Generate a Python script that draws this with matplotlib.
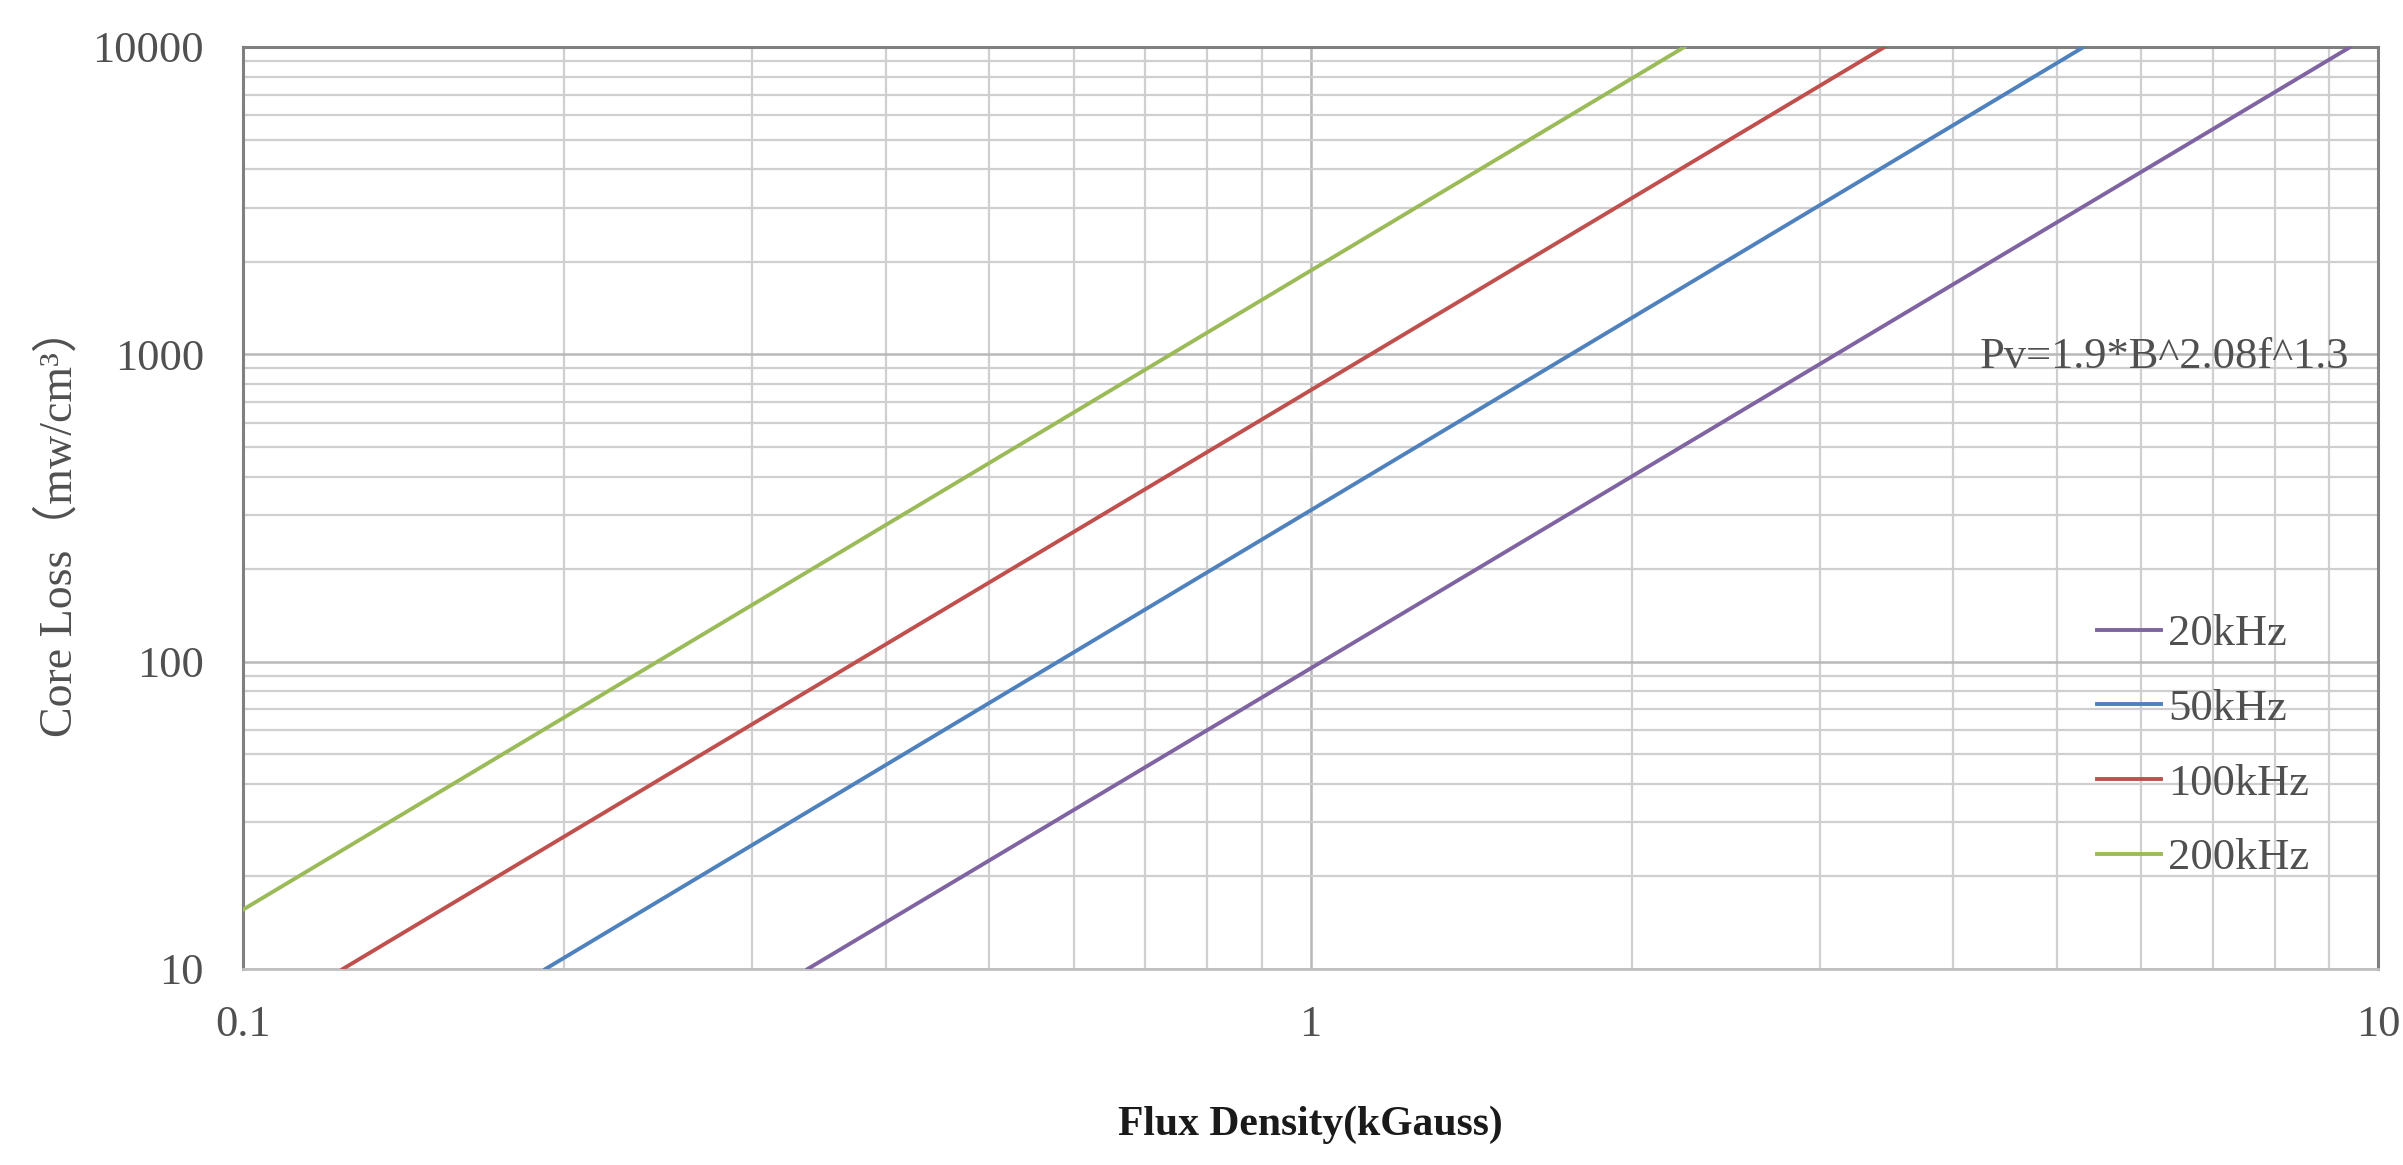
import matplotlib
matplotlib.use("Agg")
import matplotlib.pyplot as plt
from matplotlib.ticker import LogLocator, NullFormatter, FixedLocator

# Pv = 1.9*B^2.08*f^1.3 -- straight lines on log-log, read as end points
labels = ["20kHz", "50kHz", "100kHz", "200kHz"]
colors = ["#8064A2", "#4F81BD", "#C0504D", "#9BBB59"]
b_20k = [0.338, 9.42]
p_20k = [10, 10000]
b_50k = [0.192, 5.3]
p_50k = [10, 10000]
b_100k = [0.124, 3.45]
p_100k = [10, 10000]
b_200k = [0.1, 2.24]
p_200k = [15.6, 10000]

x_ticks = [0.1, 1, 10]
x_ticklabels = ["0.1", "1", "10"]
y_ticks = [10, 100, 1000, 10000]
y_ticklabels = ["10", "100", "1000", "10000"]

W, H = 2403, 1165
fig = plt.figure(figsize=(W / 100, H / 100), dpi=100)
ax = fig.add_axes([243 / W, 1 - 969 / H, (2378 - 243) / W, (969 - 47) / H])

serif = ["Liberation Serif", "Noto Sans CJK SC"]

for bx, py, c, lab in zip([b_20k, b_50k, b_100k, b_200k],
                          [p_20k, p_50k, p_100k, p_200k], colors, labels):
    ax.plot(bx, py, color=c, lw=2.8, label=lab, zorder=3)

ax.set_xscale("log")
ax.set_yscale("log")
ax.set_xlim(0.1, 10)
ax.set_ylim(10, 10000)

ax.xaxis.set_major_locator(FixedLocator(x_ticks))
ax.set_xticklabels(x_ticklabels)
ax.yaxis.set_major_locator(FixedLocator(y_ticks))
ax.set_yticklabels(y_ticklabels)
ax.xaxis.set_minor_locator(LogLocator(base=10, subs=range(2, 10)))
ax.yaxis.set_minor_locator(LogLocator(base=10, subs=range(2, 10)))
ax.xaxis.set_minor_formatter(NullFormatter())
ax.yaxis.set_minor_formatter(NullFormatter())

ax.grid(True, which="major", color="#b8b8b8", lw=1.8, zorder=0)
ax.grid(True, which="minor", color="#cfcfcf", lw=1.6, zorder=0)
ax.tick_params(which="both", length=0)
ax.tick_params(axis="y", pad=28, labelsize=32, labelcolor="#505050")
ax.tick_params(axis="x", pad=26, labelsize=32, labelcolor="#505050")
for t in ax.get_xticklabels() + ax.get_yticklabels():
    t.set_family(serif)

for side in ["left", "top", "right"]:
    ax.spines[side].set_color("#808080")
    ax.spines[side].set_linewidth(2.2)
ax.spines["bottom"].set_color("#c0c0c0")
ax.spines["bottom"].set_linewidth(2)

ax.text(1980 / W, 1 - 357 / H, "Pv=1.9*B^2.08f^1.3", transform=fig.transFigure,
        fontsize=32, family=serif, color="#505050", va="center", ha="left")

fig.text((243 + 2378) / 2 / W, 1 - 1125 / H, "Flux Density(kGauss)",
         fontsize=30, family=serif, fontweight="bold", color="#1a1a1a",
         ha="center", va="center")
fig.text(60 / W, 1 - 522 / H, "Core Loss（mw/cm³）", rotation=90,
         fontsize=33, family=serif, color="#505050", ha="center", va="center")

leg = ax.legend(loc="upper left", bbox_to_anchor=(2097 / W, 1 - 614 / H),
                bbox_transform=fig.transFigure, frameon=False, fontsize=32,
                handlelength=1.45, handletextpad=0.15, labelspacing=0.78,
                borderpad=0, borderaxespad=0)
for t in leg.get_texts():
    t.set_family(serif)
    t.set_color("#505050")

fig.savefig("out.png", dpi=100, facecolor="white")
